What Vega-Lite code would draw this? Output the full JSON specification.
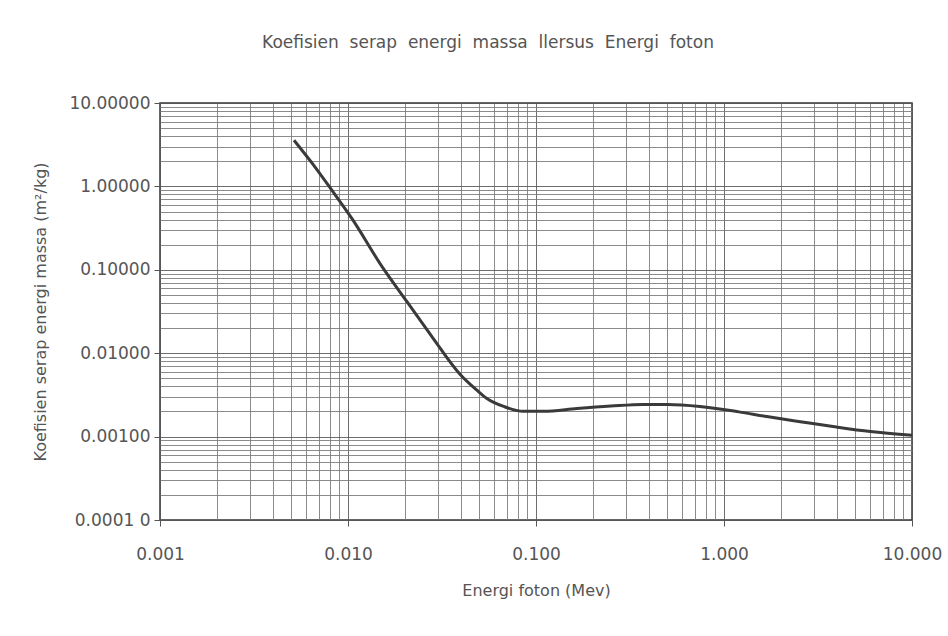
{
  "$schema": "https://vega.github.io/schema/vega-lite/v6.json",
  "width": 752,
  "height": 417,
  "autosize": {"type": "none"},
  "padding": {"left": 160, "top": 103, "right": 36, "bottom": 116},
  "background": "white",
  "title": {"text": "Koefisien\u00a0\u00a0serap\u00a0\u00a0energi\u00a0\u00a0massa\u00a0\u00a0llersus\u00a0\u00a0Energi\u00a0\u00a0foton", "fontSize": 17, "fontWeight": "normal", "font": "DejaVu Sans", "color": "#555", "offset": 42, "dx": -48},
  "config": {
    "view": {"stroke": "#333", "strokeWidth": 1.5},
    "axis": {"labelFont": "DejaVu Sans", "titleFont": "DejaVu Sans", "labelColor": "#555", "titleColor": "#555", "titleFontWeight": "normal", "labelFontSize": 17, "titleFontSize": 16, "domain": false}
  },
  "data": {"values": [
    {"E": 0.00516, "mu": 3.58},
    {"E": 0.0065, "mu": 1.85},
    {"E": 0.00822, "mu": 0.895},
    {"E": 0.0105, "mu": 0.41},
    {"E": 0.0153, "mu": 0.106},
    {"E": 0.0205, "mu": 0.042},
    {"E": 0.0283, "mu": 0.0152},
    {"E": 0.0394, "mu": 0.0056},
    {"E": 0.0485, "mu": 0.0036},
    {"E": 0.0548, "mu": 0.00287},
    {"E": 0.068, "mu": 0.00228},
    {"E": 0.0853, "mu": 0.00201},
    {"E": 0.11, "mu": 0.00201},
    {"E": 0.165, "mu": 0.00217},
    {"E": 0.25, "mu": 0.00232},
    {"E": 0.371, "mu": 0.00243},
    {"E": 0.5, "mu": 0.00243},
    {"E": 0.745, "mu": 0.0023},
    {"E": 1.2, "mu": 0.00198},
    {"E": 1.69, "mu": 0.00174},
    {"E": 2.6, "mu": 0.0015},
    {"E": 3.8, "mu": 0.00132},
    {"E": 6.0, "mu": 0.00115},
    {"E": 10.0, "mu": 0.00104}
  ]},
  "mark": {"type": "line", "color": "#3a3a3a", "strokeWidth": 3, "interpolate": "monotone"},
  "encoding": {
    "x": {
      "field": "E", "type": "quantitative",
      "scale": {"type": "log", "domain": [0.001, 10], "nice": false},
      "axis": {
        "title": "Energi foton (Mev)", "titlePadding": 20,
        "values": [0.001,0.002,0.003,0.004,0.005,0.006,0.007,0.008,0.009,0.01,0.02,0.03,0.04,0.05,0.06,0.07,0.08,0.09,0.1,0.2,0.3,0.4,0.5,0.6,0.7,0.8,0.9,1,2,3,4,5,6,7,8,9,10],
        "labelExpr": "abs(log(datum.value)/LN10 - round(log(datum.value)/LN10)) < 1e-6 ? format(datum.value, '.3f') : ''",
        "labelPadding": 20, "labelFlush": false, "labelOverlap": false,
        "tickSize": 6,
        "tickColor": "#555",
        "tickOpacity": {"condition": {"test": "abs(log(datum.value)/LN10 - round(log(datum.value)/LN10)) < 1e-6", "value": 1}, "value": 0},
        "gridColor": {"condition": {"test": "abs(log(datum.value)/LN10 - round(log(datum.value)/LN10)) < 1e-6", "value": "#555"}, "value": "#777"},
        "gridOpacity": 0.85
      }
    },
    "y": {
      "field": "mu", "type": "quantitative",
      "scale": {"type": "log", "domain": [0.0001, 10], "nice": false},
      "axis": {
        "title": "Koefisien serap energi massa (m²/kg)", "titlePadding": 20,
        "values": [0.0001,0.0002,0.0003,0.0004,0.0005,0.0006,0.0007,0.0008,0.0009,0.001,0.002,0.003,0.004,0.005,0.006,0.007,0.008,0.009,0.01,0.02,0.03,0.04,0.05,0.06,0.07,0.08,0.09,0.1,0.2,0.3,0.4,0.5,0.6,0.7,0.8,0.9,1,2,3,4,5,6,7,8,9,10],
        "labelExpr": "abs(log(datum.value)/LN10 - round(log(datum.value)/LN10)) < 1e-6 ? (datum.value < 0.0005 ? '0.0001 0' : format(datum.value, '.5f')) : ''",
        "labelPadding": 4, "labelOverlap": false, "labelFlush": false,
        "tickSize": 6,
        "tickColor": "#555",
        "tickOpacity": {"condition": {"test": "abs(log(datum.value)/LN10 - round(log(datum.value)/LN10)) < 1e-6", "value": 1}, "value": 0},
        "gridColor": {"condition": {"test": "abs(log(datum.value)/LN10 - round(log(datum.value)/LN10)) < 1e-6", "value": "#555"}, "value": "#777"},
        "gridOpacity": 0.85
      }
    }
  }
}
